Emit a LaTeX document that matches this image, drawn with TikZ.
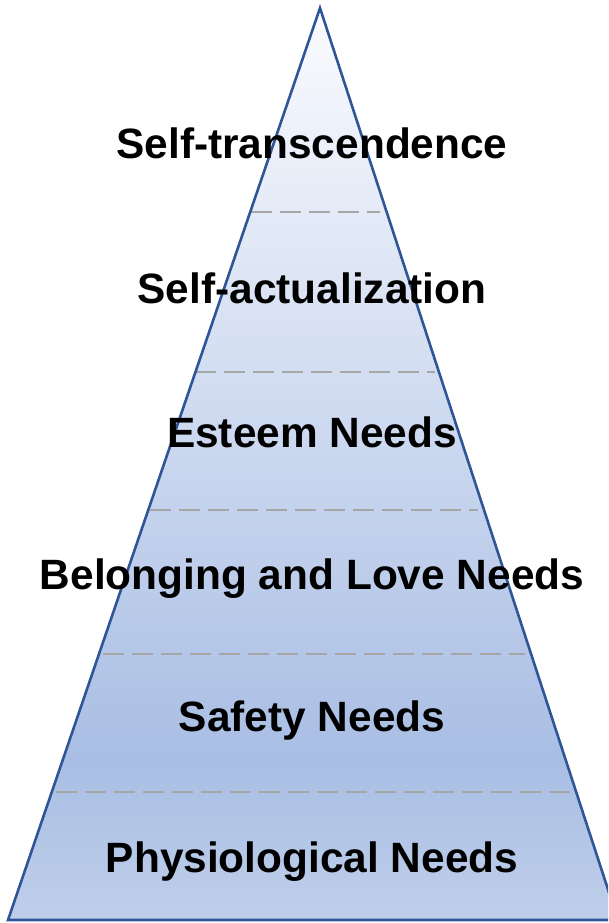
\documentclass[tikz,border=0pt]{standalone}
\usepackage{fontspec}
\setmainfont{Liberation Sans}
\definecolor{edgeblue}{HTML}{2F5597}
\definecolor{topc}{HTML}{FAFBFE}
\definecolor{midc}{HTML}{A9BEE4}
\definecolor{botc}{HTML}{BFCFEA}
\definecolor{dashgray}{HTML}{A6A6A6}
\begin{document}
\begin{tikzpicture}[x=1pt,y=-1pt,
  level/.style={font=\fontsize{42.4}{48}\selectfont\bfseries, anchor=base, inner sep=0pt},
  sep/.style={draw=dashgray, line width=2pt, dash pattern=on 21pt off 8pt},
  edge/.style={draw=edgeblue, line width=2.6pt, line join=miter}]
\clip (0,0) rectangle (608,923);
\coordinate (apex) at (320,8);
\coordinate (bl) at (8,920);
\coordinate (br) at (618,920);
\begin{scope}
  \clip (apex) -- (bl) -- (br) -- cycle;
  \shade[top color=topc, bottom color=midc] (0,8) rectangle (640,760);
  \shade[top color=midc, bottom color=botc] (0,759) rectangle (640,921);
\end{scope}
\draw[sep] (251,212) -- (380,212);
\draw[sep] (195,372) -- (435,372);
\draw[sep] (150,510) -- (478,510);
\draw[sep] (103,654) -- (525,654);
\draw[sep] (56,792) -- (574,792);
\draw[edge] (apex) -- (bl) -- (br) -- cycle;
\node[level] (l6) at (312,158) {Self-transcendence};
\node[level] (l5) at (312,303) {Self-actualization};
\node[level] (l4) at (312,447) {Esteem Needs};
\node[level] (l3) at (312,589) {Belonging and Love Needs};
\node[level] (l2) at (312,731) {Safety Needs};
\node[level] (l1) at (312,872) {Physiological Needs};
\end{tikzpicture}
\end{document}
